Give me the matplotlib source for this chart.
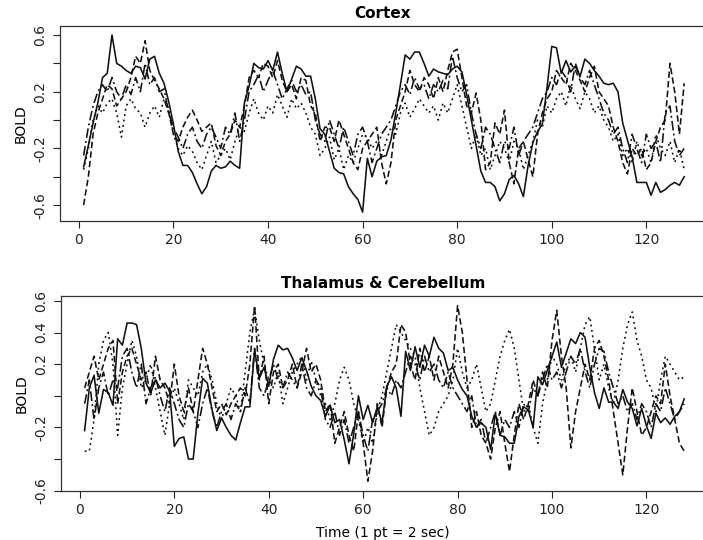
import numpy as np
import matplotlib
matplotlib.use("Agg")
import matplotlib.pyplot as plt
from matplotlib.ticker import FixedLocator, FixedFormatter

# fMRI BOLD series, one point every 2 sec (t = 1..128)
cort1 = [-0.33, -0.18, -0.02, 0.12, 0.30, 0.33, 0.60, 0.40, 0.38, 0.35,
         0.33, 0.38, 0.37, 0.29, 0.43, 0.45, 0.33, 0.26, 0.13, -0.03,
         -0.22, -0.32, -0.32, -0.37, -0.45, -0.52, -0.47, -0.36, -0.32, -0.34,
         -0.33, -0.29, -0.32, -0.34, 0.12, 0.24, 0.40, 0.37, 0.36, 0.42,
         0.35, 0.48, 0.33, 0.20, 0.29, 0.38, 0.36, 0.31, 0.31, 0.15,
         -0.06, -0.10, -0.22, -0.34, -0.37, -0.38, -0.47, -0.52, -0.56, -0.65,
         -0.27, -0.40, -0.29, -0.26, -0.25, -0.14, 0.05, 0.25, 0.46, 0.43,
         0.48, 0.48, 0.40, 0.31, 0.36, 0.34, 0.33, 0.32, 0.36, 0.38,
         0.34, 0.18, 0.00, -0.18, -0.36, -0.44, -0.44, -0.47, -0.57, -0.52,
         -0.42, -0.39, -0.45, -0.54, -0.32, -0.16, -0.08, -0.03, 0.23, 0.52,
         0.51, 0.33, 0.42, 0.34, 0.38, 0.31, 0.43, 0.40, 0.35, 0.31,
         0.26, 0.25, 0.26, 0.20, -0.02, -0.14, -0.26, -0.44, -0.44, -0.44,
         -0.53, -0.44, -0.51, -0.49, -0.46, -0.44, -0.46, -0.40]
cort2 = [-0.60, -0.40, -0.10, 0.05, 0.15, 0.25, 0.22, 0.10, 0.15, 0.20,
         0.30, 0.45, 0.40, 0.56, 0.35, 0.28, 0.22, 0.15, 0.05, -0.10,
         -0.15, -0.05, 0.02, 0.07, 0.00, -0.08, -0.05, -0.02, -0.18, -0.25,
         -0.15, -0.10, 0.00, -0.05, 0.10, 0.30, 0.35, 0.30, 0.40, 0.38,
         0.30, 0.42, 0.28, 0.20, 0.25, 0.15, 0.30, 0.28, 0.10, 0.05,
         -0.15, -0.05, -0.05, -0.15, 0.00, -0.10, -0.20, -0.30, -0.35, -0.20,
         -0.15, -0.10, -0.05, -0.30, -0.45, -0.30, 0.00, 0.10, 0.20, 0.35,
         0.25, 0.20, 0.30, 0.25, 0.15, 0.30, 0.20, 0.35, 0.48, 0.50,
         0.30, 0.10, 0.05, 0.19, 0.00, -0.35, -0.30, -0.02, -0.10, 0.07,
         -0.30, -0.45, -0.20, -0.15, -0.28, -0.40, -0.10, 0.05, 0.15, 0.20,
         0.35, 0.30, 0.25, 0.40, 0.35, 0.28, 0.20, 0.30, 0.38, 0.20,
         0.15, 0.10, -0.05, -0.15, -0.30, -0.38, -0.20, -0.25, -0.20, -0.35,
         -0.30, -0.15, -0.05, 0.00, 0.40, 0.20, -0.10, 0.26]
cort3 = [-0.35, -0.20, 0.00, 0.10, 0.05, 0.12, 0.15, 0.05, -0.12, 0.10,
         0.15, 0.08, 0.05, -0.05, 0.05, 0.10, 0.02, 0.15, 0.08, -0.10,
         -0.20, -0.25, -0.18, -0.22, -0.30, -0.35, -0.25, -0.15, -0.30, -0.25,
         -0.20, -0.28, -0.15, -0.05, -0.08, 0.05, 0.15, 0.05, 0.00, 0.10,
         0.05, 0.18, 0.10, 0.02, 0.15, 0.08, 0.12, 0.05, -0.05, -0.10,
         -0.25, -0.20, -0.12, -0.28, -0.20, -0.35, -0.25, -0.30, -0.20, -0.10,
         -0.12, -0.20, -0.15, -0.25, -0.15, -0.05, -0.10, 0.05, 0.12, 0.02,
         0.08, 0.15, 0.10, 0.05, 0.10, 0.00, 0.12, 0.05, 0.15, 0.25,
         0.10, -0.05, -0.20, -0.10, -0.25, -0.20, -0.35, -0.25, -0.15, -0.20,
         -0.30, -0.15, -0.20, -0.35, -0.25, -0.15, 0.00, -0.05, 0.10, 0.05,
         0.15, 0.20, 0.10, 0.25, 0.15, 0.08, 0.20, 0.15, 0.05, 0.10,
         0.00, -0.05, -0.15, -0.10, -0.25, -0.20, -0.30, -0.15, -0.25, -0.20,
         -0.30, -0.10, -0.20, -0.25, -0.15, -0.30, -0.20, -0.35]
cort4 = [-0.25, -0.05, 0.10, 0.20, 0.25, 0.20, 0.30, 0.20, 0.15, 0.25,
         0.18, 0.30, 0.20, 0.40, 0.25, 0.30, 0.20, 0.22, 0.05, -0.05,
         -0.12, -0.20, -0.10, -0.05, -0.15, -0.20, -0.10, -0.05, -0.12, -0.20,
         -0.05, -0.10, 0.05, -0.15, 0.00, 0.20, 0.25, 0.32, 0.20, 0.28,
         0.35, 0.25, 0.15, 0.22, 0.28, 0.20, 0.25, 0.18, 0.20, 0.00,
         -0.10, -0.15, 0.00, -0.10, -0.20, -0.05, -0.15, -0.25, -0.10, -0.05,
         -0.15, -0.30, -0.20, -0.10, -0.05, 0.00, 0.10, 0.20, 0.25, 0.18,
         0.30, 0.22, 0.25, 0.15, 0.25, 0.20, 0.28, 0.22, 0.45, 0.30,
         0.20, 0.25, 0.05, -0.10, -0.20, -0.05, -0.10, -0.20, -0.30, -0.15,
         -0.20, -0.05, -0.25, -0.15, -0.10, -0.05, 0.05, 0.15, 0.20, 0.30,
         0.25, 0.35, 0.30, 0.20, 0.40, 0.30, 0.25, 0.35, 0.25, 0.15,
         0.05, 0.00, -0.10, -0.05, -0.20, -0.30, -0.10, -0.20, -0.30, -0.10,
         -0.20, -0.15, -0.30, 0.05, 0.10, -0.15, -0.25, -0.20]

thal1 = [-0.22, 0.05, 0.13, -0.11, 0.04, 0.02, -0.06, 0.36, 0.32, 0.46,
         0.46, 0.45, 0.30, 0.08, 0.02, 0.10, 0.05, 0.08, 0.03, -0.32,
         -0.27, -0.26, -0.40, -0.40, -0.11, 0.11, 0.08, -0.09, -0.22, -0.14,
         -0.20, -0.25, -0.28, -0.17, -0.07, -0.07, 0.29, 0.11, 0.18, 0.06,
         0.23, 0.32, 0.29, 0.30, 0.24, 0.16, 0.24, 0.16, 0.06, 0.00,
         -0.03, -0.13, -0.06, -0.17, -0.15, -0.28, -0.43, -0.24, 0.00, -0.15,
         -0.06, -0.17, -0.07, -0.17, 0.06, 0.12, 0.05, -0.13, 0.28, 0.16,
         0.31, 0.18, 0.32, 0.25, 0.37, 0.30, 0.27, 0.16, 0.18, 0.10,
         0.04, 0.00, -0.13, -0.20, -0.17, -0.20, -0.34, -0.11, -0.25, -0.26,
         -0.30, -0.30, -0.13, -0.07, -0.09, -0.20, 0.12, 0.07, 0.16, 0.25,
         0.34, 0.18, 0.27, 0.36, 0.33, 0.40, 0.37, 0.18, 0.02, -0.08,
         0.05, -0.04, -0.04, -0.08, 0.04, -0.04, -0.08, -0.19, -0.08, -0.19,
         -0.27, -0.11, -0.17, -0.14, -0.18, -0.13, -0.10, -0.02]
thal2 = [0.05, 0.15, 0.25, 0.10, 0.20, 0.30, 0.35, -0.05, 0.15, 0.25,
         0.30, 0.20, 0.10, 0.15, 0.00, 0.25, 0.10, 0.05, -0.05, 0.20,
         0.00, -0.10, 0.05, -0.10, 0.10, 0.30, 0.20, 0.05, -0.10, -0.05,
         -0.12, -0.05, 0.00, 0.05, 0.00, 0.20, 0.57, 0.10, 0.25, -0.05,
         0.15, 0.20, 0.05, 0.10, 0.20, 0.05, 0.15, 0.30, 0.15, 0.20,
         0.10, -0.10, -0.05, -0.30, -0.20, -0.10, -0.25, -0.35, -0.10, -0.30,
         -0.54, -0.35, -0.05, -0.20, 0.05, 0.15, 0.20, 0.45, 0.40, 0.20,
         0.10, 0.30, 0.15, 0.25, 0.10, 0.25, 0.15, 0.05, 0.20, 0.57,
         0.40, 0.10, -0.20, -0.10, -0.25, -0.30, -0.40, -0.20, -0.10, -0.30,
         -0.48, -0.25, -0.05, -0.15, -0.05, 0.10, 0.00, 0.15, 0.05, 0.35,
         0.54, 0.25, 0.05, -0.33, -0.10, 0.05, 0.20, 0.10, 0.30, 0.35,
         0.25, 0.10, -0.10, -0.30, -0.50, -0.20, 0.05, -0.10, -0.25, -0.20,
         -0.10, 0.00, -0.05, 0.20, 0.00, -0.15, -0.30, -0.35]
cere1 = [-0.35, -0.35, -0.15, 0.20, 0.35, 0.40, 0.20, -0.25, 0.05, 0.20,
         0.35, 0.25, 0.05, 0.10, 0.20, 0.05, -0.10, -0.25, -0.05, 0.05,
         -0.05, -0.15, 0.10, 0.05, 0.00, 0.15, 0.20, 0.10, -0.05, -0.15,
         -0.05, 0.05, 0.00, -0.10, 0.15, 0.40, 0.55, 0.35, 0.20, 0.10,
         0.05, 0.15, -0.05, 0.05, 0.15, 0.20, 0.25, 0.10, 0.22, 0.10,
         0.00, -0.05, -0.15, -0.05, 0.10, 0.18, 0.10, -0.05, -0.15, -0.30,
         -0.20, -0.30, -0.10, 0.00, 0.15, 0.30, 0.45, 0.40, 0.35, 0.30,
         0.25, 0.05, -0.10, -0.25, -0.20, -0.10, -0.05, 0.00, 0.10, 0.30,
         0.15, 0.05, 0.10, 0.20, 0.05, -0.10, -0.05, 0.10, 0.25, 0.35,
         0.42, 0.30, 0.10, -0.10, -0.05, -0.20, -0.30, -0.05, 0.10, 0.25,
         0.20, 0.10, 0.20, 0.25, 0.15, 0.30, 0.45, 0.50, 0.30, 0.10,
         0.20, 0.05, -0.05, 0.10, 0.30, 0.45, 0.53, 0.35, 0.25, 0.10,
         0.05, -0.10, 0.10, 0.25, 0.20, 0.15, 0.10, 0.12]
cere2 = [-0.05, 0.10, -0.15, 0.05, 0.15, 0.00, 0.10, 0.05, 0.25, 0.30,
         0.15, 0.05, 0.20, -0.05, 0.05, 0.12, 0.00, -0.10, 0.05, -0.05,
         -0.15, -0.20, -0.05, -0.10, -0.20, -0.05, 0.05, -0.10, -0.20, -0.10,
         -0.05, -0.15, -0.05, -0.10, 0.05, -0.05, 0.30, 0.05, 0.00, 0.10,
         0.20, 0.10, 0.05, 0.15, 0.10, 0.05, 0.20, 0.05, 0.00, 0.10,
         0.05, -0.15, -0.20, -0.10, -0.25, -0.15, -0.30, -0.20, -0.10, -0.25,
         -0.35, -0.15, -0.10, -0.05, 0.05, 0.00, 0.10, 0.05, 0.15, 0.25,
         0.20, 0.10, 0.25, 0.15, 0.20, 0.10, 0.05, 0.15, 0.05, 0.00,
         -0.05, -0.10, 0.00, -0.20, -0.15, -0.30, -0.20, -0.10, -0.25, -0.15,
         -0.20, -0.10, -0.20, -0.05, -0.10, 0.05, 0.00, 0.10, 0.20, 0.10,
         0.15, 0.05, 0.15, 0.25, 0.20, 0.30, 0.15, 0.05, 0.20, 0.30,
         0.28, 0.15, 0.05, -0.05, 0.00, -0.10, -0.05, -0.15, -0.05, -0.10,
         -0.20, -0.05, -0.10, 0.05, -0.05, -0.15, -0.10, -0.05]

panels = [
    ("Cortex", [cort1, cort2, cort3, cort4], (-0.71, 0.664),
     ["-0.6", "", "-0.2", "", "0.2", "", "0.6"]),
    ("Thalamus & Cerebellum", [thal1, thal2, cere1, cere2], (-0.6, 0.631),
     ["-0.6", "", "-0.2", "", "0.2", "0.4", "0.6"]),
]
# R lty 1, 2, 4, 5
styles = ["-", (0, (4, 2)), (0, (1.2, 2.2)), (0, (6, 2, 1.2, 2))]

plt.rcParams["font.family"] = "DejaVu Sans"
fig = plt.figure(figsize=(7.03, 5.4), dpi=100)
# right edge of the box sits just past the picture edge, as in the scan
rects = [[0.0853, 0.5913, 0.9175, 0.3606], [0.0868, 0.0913, 0.916, 0.3606]]

for rect, (title, series, ylim, ylabels) in zip(rects, panels):
    ax = fig.add_axes(rect)
    for y, ls in zip(series, styles):
        t = np.arange(1, len(y) + 1)
        ax.plot(t, y, color="#111111", lw=1.15, linestyle=ls)
    ax.set_xlim(-4, 132.4)
    ax.set_ylim(*ylim)
    ax.set_xticks([0, 20, 40, 60, 80, 100, 120])
    yt = [-0.6, -0.4, -0.2, 0.0, 0.2, 0.4, 0.6]
    ax.yaxis.set_major_locator(FixedLocator(yt))
    ax.yaxis.set_major_formatter(FixedFormatter(ylabels))
    for lab in ax.get_yticklabels():
        lab.set_rotation(90)
        lab.set_va("center")
    ax.tick_params(direction="out", length=5, width=0.8, pad=4,
                   labelsize=10, colors="#222222")
    for s in ax.spines.values():
        s.set_linewidth(0.9)
        s.set_color("#333333")
    ax.set_title(title, fontsize=11, fontweight="bold", pad=6)
    ax.set_ylabel("BOLD", fontsize=10, labelpad=4)

ax.set_xlabel("Time (1 pt = 2 sec)", fontsize=10, labelpad=6)

fig.savefig("out.png", dpi=100)
